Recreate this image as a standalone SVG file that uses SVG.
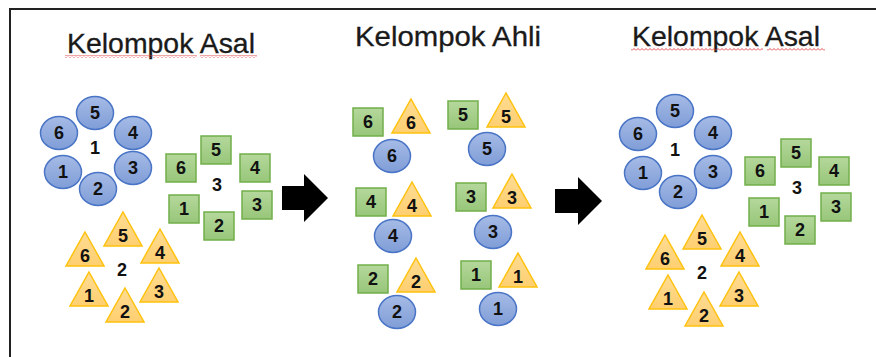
<svg xmlns="http://www.w3.org/2000/svg" xmlns:xlink="http://www.w3.org/1999/xlink" width="876" height="357" viewBox="0 0 876 357">
  <style>
    .title { font-family: "Liberation Sans", Arial, sans-serif; font-size: 28px; fill: #1a1a1a; stroke: #1a1a1a; stroke-width: 0.3; }
    .lbl { font-family: "Liberation Sans", Arial, sans-serif; font-size: 18px; font-weight: bold; fill: #111; text-anchor: middle; }
    .mid { font-family: "Liberation Sans", Arial, sans-serif; font-size: 18px; font-weight: bold; fill: #111; text-anchor: middle; }
    .blue { fill: url(#gBlue); stroke: #4A75C6; stroke-width: 1.5; }
    .green { fill: url(#gGreen); stroke: #72AE4A; stroke-width: 1.5; }
    .gold { fill: url(#gGold); stroke: #FFC20E; stroke-width: 1.5; stroke-linejoin: miter; }
    .arrow { fill: #000; }
    .frame { stroke: #222; stroke-width: 2; fill: none; }
  </style>
  <defs>
    <linearGradient id="gBlue" x1="0" y1="0" x2="0" y2="1">
      <stop offset="0" stop-color="#A6BBE6"/>
      <stop offset="1" stop-color="#7F9DD7"/>
    </linearGradient>
    <linearGradient id="gGreen" x1="0" y1="0" x2="0" y2="1">
      <stop offset="0" stop-color="#B5D89C"/>
      <stop offset="1" stop-color="#97C679"/>
    </linearGradient>
    <linearGradient id="gGold" x1="0" y1="0" x2="0" y2="1">
      <stop offset="0" stop-color="#FFDC94"/>
      <stop offset="1" stop-color="#FFCF70"/>
    </linearGradient>
    <pattern id="wave" width="4" height="3" patternUnits="userSpaceOnUse">
      <path d="M0,2.5 L2,0.5 L4,2.5" fill="none" stroke="#E23B3B" stroke-width="0.9"/>
    </pattern>
    <!-- member shapes, drawn around their own origin -->
    <ellipse id="circ" class="blue" cx="0" cy="0" rx="18.5" ry="16.5"/>
    <rect id="sq" class="green" x="-15" y="-14" width="30" height="28"/>
    <polygon id="tri" class="gold" points="0,0 19,34 -19,34"/>
  </defs>

  <rect width="876" height="357" fill="#fff"/>
  <path class="frame" d="M10,357 L10,9 L876,9"/>

  <!-- titles -->
  <g id="title-left">
    <text class="title" x="67" y="53" textLength="188" lengthAdjust="spacingAndGlyphs">Kelompok Asal</text>
    <rect x="65" y="55" width="132" height="3" fill="url(#wave)"/>
    <rect x="200" y="55" width="57" height="3" fill="url(#wave)"/>
  </g>
  <g id="title-middle">
    <text class="title" x="355" y="46" textLength="186" lengthAdjust="spacingAndGlyphs">Kelompok Ahli</text>
  </g>
  <g id="title-right">
    <text class="title" x="632" y="46" textLength="188" lengthAdjust="spacingAndGlyphs">Kelompok Asal</text>
    <rect x="631" y="48" width="132" height="3" fill="url(#wave)"/>
    <rect x="767" y="48" width="58" height="3" fill="url(#wave)"/>
  </g>

  <!-- home groups, left -->
  <g id="home-blue-left">
    <use href="#circ" x="95" y="113"/><text class="lbl" x="95" y="119">5</text>
    <use href="#circ" x="59" y="133"/><text class="lbl" x="59" y="139">6</text>
    <use href="#circ" x="133" y="133"/><text class="lbl" x="133" y="139">4</text>
    <use href="#circ" x="63" y="172"/><text class="lbl" x="63" y="178">1</text>
    <use href="#circ" x="133" y="168"/><text class="lbl" x="133" y="174">3</text>
    <use href="#circ" x="98" y="189"/><text class="lbl" x="98" y="195">2</text>
    <text class="mid" x="95" y="154">1</text>
  </g>
  <g id="home-green-left">
    <use href="#sq" x="216" y="150"/><text class="lbl" x="216" y="156">5</text>
    <use href="#sq" x="181" y="168"/><text class="lbl" x="181" y="174">6</text>
    <use href="#sq" x="255" y="168"/><text class="lbl" x="255" y="174">4</text>
    <use href="#sq" x="184" y="209"/><text class="lbl" x="184" y="215">1</text>
    <use href="#sq" x="257" y="205"/><text class="lbl" x="257" y="211">3</text>
    <use href="#sq" x="219" y="226"/><text class="lbl" x="219" y="232">2</text>
    <text class="mid" x="217" y="191">3</text>
  </g>
  <g id="home-gold-left">
    <use href="#tri" x="123" y="212"/><text class="lbl" x="123" y="242">5</text>
    <use href="#tri" x="85" y="232"/><text class="lbl" x="85" y="262">6</text>
    <use href="#tri" x="160" y="229"/><text class="lbl" x="160" y="259">4</text>
    <use href="#tri" x="89" y="272"/><text class="lbl" x="89" y="302">1</text>
    <use href="#tri" x="159" y="268"/><text class="lbl" x="159" y="298">3</text>
    <use href="#tri" x="125" y="288"/><text class="lbl" x="125" y="318">2</text>
    <text class="mid" x="122" y="276">2</text>
  </g>

  <!-- expert groups, middle -->
  <g id="expert-6">
    <use href="#sq" x="368" y="122"/><text class="lbl" x="368" y="128">6</text>
    <use href="#tri" x="411" y="99"/><text class="lbl" x="411" y="129">6</text>
    <use href="#circ" x="392" y="156"/><text class="lbl" x="392" y="162">6</text>
  </g>
  <g id="expert-5">
    <use href="#sq" x="463" y="115"/><text class="lbl" x="463" y="121">5</text>
    <use href="#tri" x="506" y="93"/><text class="lbl" x="506" y="123">5</text>
    <use href="#circ" x="487" y="149"/><text class="lbl" x="487" y="155">5</text>
  </g>
  <g id="expert-4">
    <use href="#sq" x="371" y="202"/><text class="lbl" x="371" y="208">4</text>
    <use href="#tri" x="412" y="182"/><text class="lbl" x="412" y="212">4</text>
    <use href="#circ" x="393" y="236"/><text class="lbl" x="393" y="242">4</text>
  </g>
  <g id="expert-3">
    <use href="#sq" x="471" y="197"/><text class="lbl" x="471" y="203">3</text>
    <use href="#tri" x="512" y="174"/><text class="lbl" x="512" y="204">3</text>
    <use href="#circ" x="493" y="232"/><text class="lbl" x="493" y="238">3</text>
  </g>
  <g id="expert-2">
    <use href="#sq" x="373" y="279"/><text class="lbl" x="373" y="285">2</text>
    <use href="#tri" x="416" y="258"/><text class="lbl" x="416" y="288">2</text>
    <use href="#circ" x="397" y="312"/><text class="lbl" x="397" y="318">2</text>
  </g>
  <g id="expert-1">
    <use href="#sq" x="476" y="275"/><text class="lbl" x="476" y="281">1</text>
    <use href="#tri" x="518" y="253"/><text class="lbl" x="518" y="283">1</text>
    <use href="#circ" x="498" y="309"/><text class="lbl" x="498" y="315">1</text>
  </g>

  <!-- home groups, right -->
  <g id="home-blue-right">
    <use href="#circ" x="675" y="111"/><text class="lbl" x="675" y="117">5</text>
    <use href="#circ" x="638" y="134"/><text class="lbl" x="638" y="140">6</text>
    <use href="#circ" x="713" y="133"/><text class="lbl" x="713" y="139">4</text>
    <use href="#circ" x="643" y="173"/><text class="lbl" x="643" y="179">1</text>
    <use href="#circ" x="713" y="172"/><text class="lbl" x="713" y="178">3</text>
    <use href="#circ" x="678" y="192"/><text class="lbl" x="678" y="198">2</text>
    <text class="mid" x="675" y="156">1</text>
  </g>
  <g id="home-green-right">
    <use href="#sq" x="796" y="153"/><text class="lbl" x="796" y="159">5</text>
    <use href="#sq" x="760" y="171"/><text class="lbl" x="760" y="177">6</text>
    <use href="#sq" x="834" y="171"/><text class="lbl" x="834" y="177">4</text>
    <use href="#sq" x="764" y="212"/><text class="lbl" x="764" y="218">1</text>
    <use href="#sq" x="836" y="207"/><text class="lbl" x="836" y="213">3</text>
    <use href="#sq" x="800" y="230"/><text class="lbl" x="800" y="236">2</text>
    <text class="mid" x="797" y="194">3</text>
  </g>
  <g id="home-gold-right">
    <use href="#tri" x="702" y="215"/><text class="lbl" x="702" y="245">5</text>
    <use href="#tri" x="665" y="235"/><text class="lbl" x="665" y="265">6</text>
    <use href="#tri" x="740" y="232"/><text class="lbl" x="740" y="262">4</text>
    <use href="#tri" x="668" y="275"/><text class="lbl" x="668" y="305">1</text>
    <use href="#tri" x="739" y="272"/><text class="lbl" x="739" y="302">3</text>
    <use href="#tri" x="704" y="292"/><text class="lbl" x="704" y="322">2</text>
    <text class="mid" x="702" y="279">2</text>
  </g>

  <!-- block arrows between the stages -->
  <g id="connectors">
    <polygon class="arrow" points="282,186 304,186 304,174 328,198 304,222 304,210 282,210"/>
    <polygon class="arrow" points="555,189 578,189 578,177 602,201 578,225 578,213 555,213"/>
  </g>
</svg>
